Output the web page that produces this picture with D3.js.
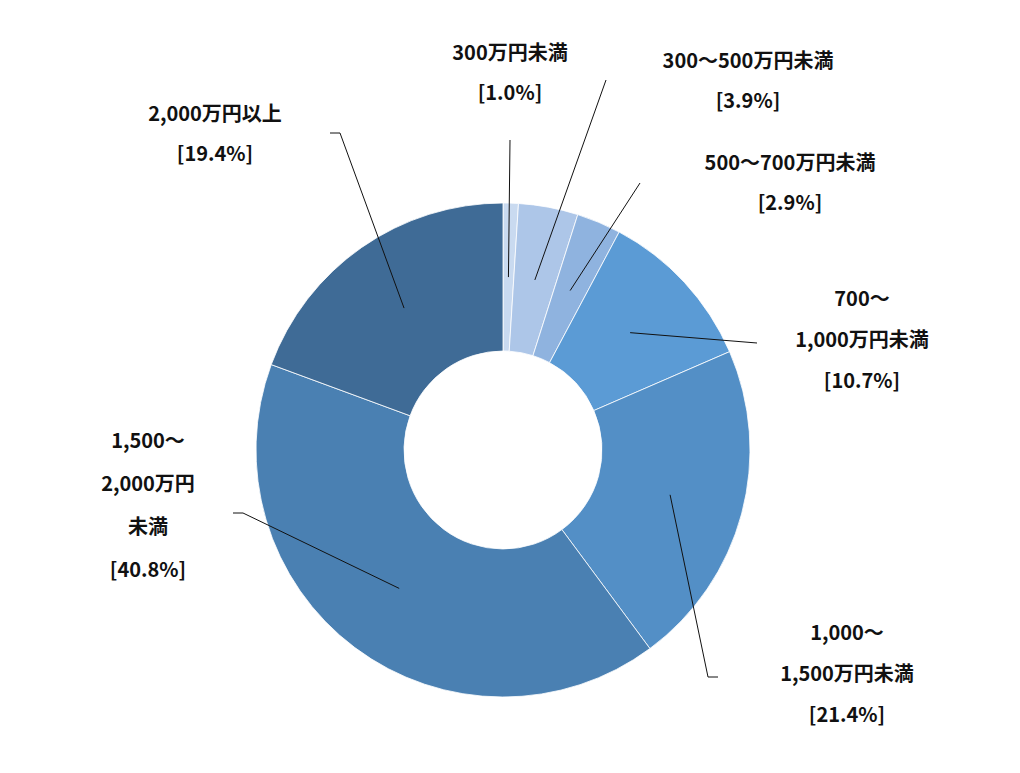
<!DOCTYPE html>
<html>
<head>
<meta charset="utf-8">
<script src="https://cdn.jsdelivr.net/npm/d3@7"></script>
<style>
  body { margin: 0; background: #fff; }
  text { font-family: "Noto Sans CJK JP", sans-serif; font-weight: bold; font-size: 20px; fill: #111; }
</style>
</head>
<body>
<svg width="1020" height="773"></svg>
<script>
const categories = ["300万円未満", "300～500万円未満", "500～700万円未満", "700～1,000万円未満",
                    "1,000～1,500万円未満", "1,500～2,000万円未満", "2,000万円以上"];
const values = [1.0, 3.9, 2.9, 10.7, 21.4, 40.8, 19.4];
const labelLines = [
    ["300万円未満", "[1.0%]"],
    ["300～500万円未満", "[3.9%]"],
    ["500～700万円未満", "[2.9%]"],
    ["700～", "1,000万円未満", "[10.7%]"],
    ["1,000～", "1,500万円未満", "[21.4%]"],
    ["1,500～", "2,000万円", "未満", "[40.8%]"],
    ["2,000万円以上", "[19.4%]"]
];
const colors = ["#c9daf0", "#adc6e8", "#8fb3df", "#5b9bd5", "#538fc6", "#4a80b2", "#3f6b96"];

// label layout: text centre x, first line y, line gap, leader end points
const layout = [
    {x: 510, y: 60, gap: 40, pts: [[510, 140]]},
    {x: 748, y: 68, gap: 40, pts: [[606, 80]]},
    {x: 790, y: 170, gap: 40, pts: [[640, 183]]},
    {x: 862, y: 306, gap: 41, pts: [[757, 343]]},
    {x: 847, y: 640, gap: 41, pts: [[708, 677], [718, 677]]},
    {x: 148, y: 448, gap: 43, pts: [[243, 513], [233, 513]]},
    {x: 215, y: 121, gap: 40, pts: [[340, 133], [330, 133]]}
];

const svg = d3.select("svg");
const cx = 503, cy = 450, outerR = 247, innerR = 99;
const g = svg.append("g").attr("transform", `translate(${cx},${cy})`);

const pie = d3.pie().sort(null).value(d => d);
const arcs = pie(values);
const arc = d3.arc().innerRadius(innerR).outerRadius(outerR);

g.selectAll("path.slice")
    .data(arcs)
    .enter().append("path")
    .attr("class", "slice")
    .attr("d", arc)
    .attr("fill", (d, i) => colors[i])
    .attr("stroke", "#fff")
    .attr("stroke-width", 0.8);

const r = 173;
arcs.forEach((d, i) => {
    const a = (d.startAngle + d.endAngle) / 2;
    const p0 = [cx + Math.sin(a) * r, cy - Math.cos(a) * r];
    const pts = [p0].concat(layout[i].pts);
    svg.append("path")
        .attr("d", d3.line()(pts))
        .attr("fill", "none")
        .attr("stroke", "#111")
        .attr("stroke-width", 1);
    const t = svg.append("text").attr("text-anchor", "middle");
    labelLines[i].forEach((s, j) => {
        t.append("tspan")
            .attr("x", layout[i].x)
            .attr("y", layout[i].y + j * layout[i].gap)
            .text(s);
    });
});
</script>
</body>
</html>
